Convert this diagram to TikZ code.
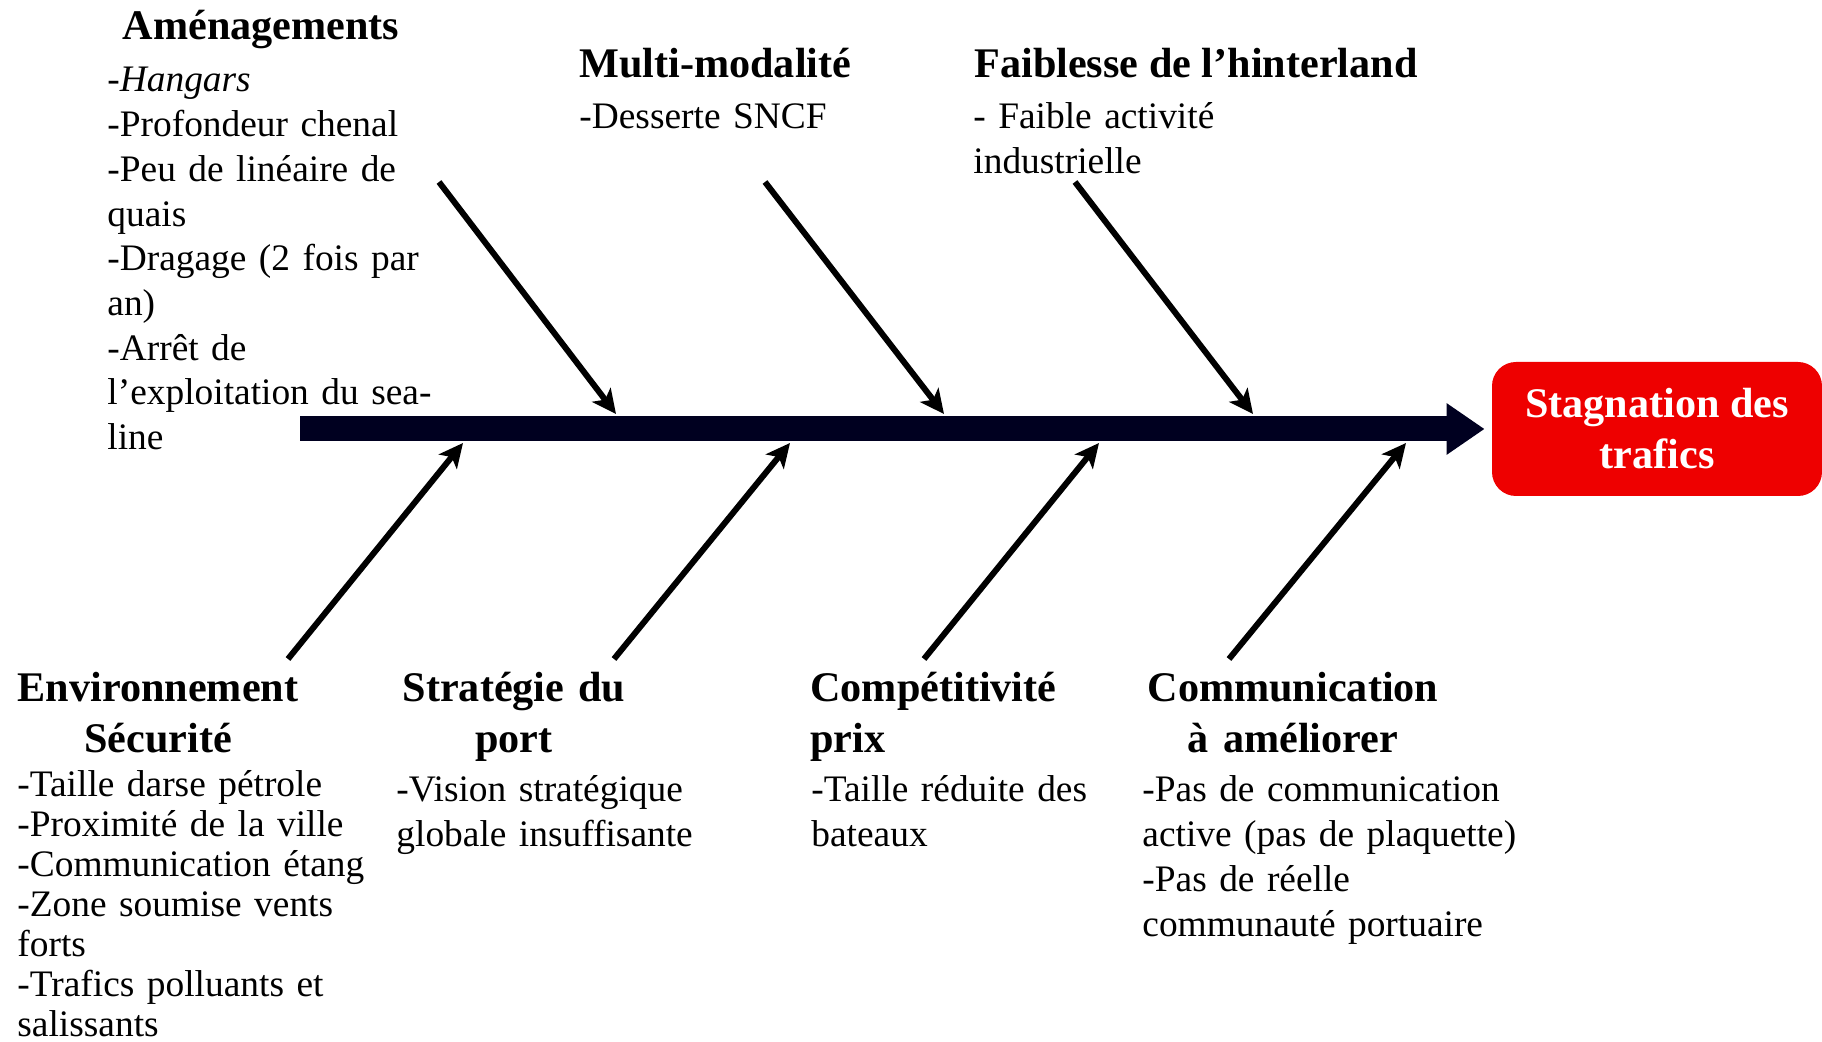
\documentclass[tikz,border=0pt]{standalone}
\usepackage{fontspec}
\setmainfont{Liberation Serif}
\usetikzlibrary{arrows.meta}
\definecolor{spinecol}{RGB}{0,0,32}
\definecolor{boxred}{RGB}{238,0,0}

\begin{document}
\begin{tikzpicture}[x=0.5pt, y=-0.5pt]
 \tikzstyle{head}=[inner sep=0pt, anchor=base west, font=\fontsize{21.1}{25.5}\selectfont\bfseries]
 \tikzstyle{chead}=[head, anchor=base, text width=170pt, align=center]
 \tikzstyle{item}=[inner sep=0pt, anchor=base west, text width=200pt, align=left, font=\fontsize{18.7}{22.35}\selectfont]
 \tikzstyle{effect}=[rectangle, rounded corners=12pt, fill=boxred, text=white, align=center, minimum width=165pt, minimum height=67pt, font=\fontsize{21.1}{25.5}\selectfont\bfseries]
 \tikzstyle{spine}=[draw=spinecol, line width=12.5pt, -{Triangle[length=19pt, width=24.5pt]}, shorten >=3.5pt]
 \tikzstyle{bone}=[draw, line width=3pt, -{Stealth[length=12pt, width=11.5pt, inset=3pt]}]

 \useasboundingbox (0,0) rectangle (1822,1042);

 % effect and main spine
 \draw (1657,429) node[effect] (stag) {Stagnation des\\trafics};
 \coordinate (tail) at (300,429);
 \path [spine] (tail) -- (tail -| stag.west);

 % causes above the spine
 \begin{scope}
  \draw (261,40) node[chead] (amen) {Aménagements};
  \draw (107,92) node[item] (amenl) {-\textit{Hangars}\\-Profondeur chenal\\-Peu de linéaire de\\quais\\-Dragage (2 fois par\\an)\\-Arrêt de\\l’exploitation du sea-\\line};
  \draw (579,78) node[head] (multi) {Multi-modalité};
  \draw (579,129) node[item] (multil) {-Desserte SNCF};
  \draw (974,78) node[head] (hint) {Faiblesse de l’hinterland};
  \draw (973,129) node[item] (hintl) {- Faible activité\\industrielle};

  \coordinate (u1) at (439,182);
  \coordinate (s1) at (616,414);
  \coordinate (u2) at (765,182);
  \coordinate (s2) at (944,414);
  \coordinate (u3) at (1075,182);
  \coordinate (s3) at (1253,414);
  \path [bone] (u1) -- (s1);
  \path [bone] (u2) -- (s2);
  \path [bone] (u3) -- (s3);
 \end{scope}

 % causes below the spine
 \begin{scope}
  \draw (158,702) node[chead] (envi) {Environnement\\Sécurité};
  \draw (17,797) node[item, font=\fontsize{18.7}{20}\selectfont] (envil) {-Taille darse pétrole\\-Proximité de la ville\\-Communication étang\\-Zone soumise vents\\forts\\-Trafics polluants et\\salissants};
  \draw (514,702) node[chead] (strat) {Stratégie du\\port};
  \draw (396,802) node[item] (stratl) {-Vision stratégique\\globale insuffisante};
  \draw (810,702) node[head, text width=170pt, align=left] (compet) {Compétitivité\\prix};
  \draw (811,802) node[item] (competl) {-Taille réduite des\\bateaux};
  \draw (1293,702) node[chead] (comm) {Communication\\à améliorer};
  \draw (1142,802) node[item] (comml) {-Pas de communication\\active (pas de plaquette)\\-Pas de réelle\\communauté portuaire};

  \coordinate (d1) at (288,659);
  \coordinate (t1) at (463,443);
  \coordinate (d2) at (614,659);
  \coordinate (t2) at (790,443);
  \coordinate (d3) at (924,659);
  \coordinate (t3) at (1099,443);
  \coordinate (d4) at (1229,659);
  \coordinate (t4) at (1406,443);
  \path [bone] (d1) -- (t1);
  \path [bone] (d2) -- (t2);
  \path [bone] (d3) -- (t3);
  \path [bone] (d4) -- (t4);
 \end{scope}
\end{tikzpicture}
\end{document}
